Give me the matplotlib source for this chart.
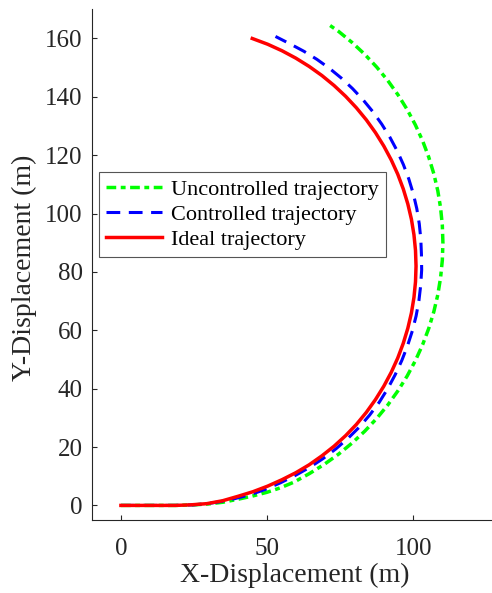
import matplotlib
matplotlib.use("Agg")
import matplotlib.pyplot as plt

plt.rcParams['font.family'] = ['Liberation Serif', 'DejaVu Serif']

# Trajectory samples (x, y) in metres
ideal_x = [0, 10, 18.7, 24.0, 29.4, 34.8, 40.0, 45.2, 50.2, 55.1, 59.85, 64.4, 68.8,
           72.96, 76.9, 80.58, 84.0, 87.13, 89.97, 92.51, 94.74, 96.63, 98.19, 99.42,
           100.29, 100.82, 101.0, 100.82, 100.29, 99.42, 98.19, 96.63, 94.74, 92.51,
           89.97, 87.13, 84.0, 80.58, 76.9, 72.96, 68.8, 64.42, 59.85, 55.10, 50.2,
           44.95]
ideal_y = [0, 0, 0, 0.2, 0.6, 1.6, 3.1, 4.7, 6.6, 8.8, 11.2, 13.9, 17.0,
           20.3, 23.9, 27.74, 31.9, 36.28, 40.85, 45.60, 50.5, 55.55, 60.7, 65.94,
           71.26, 76.62, 82.0, 87.38, 92.74, 98.06, 103.3, 108.45, 113.5, 118.40,
           123.15, 127.72, 132.1, 136.26, 140.19, 143.88, 147.3, 150.43, 153.27,
           155.81, 158.04, 160.0]

ctrl_x = [0, 10, 18.7, 25.0, 29.4, 33.5, 38.9, 44.3, 49.5, 54.7, 59.73, 64.55, 69.15,
          73.54, 77.69, 81.58, 85.14, 88.41, 91.29, 93.85, 96.12, 98.07, 99.72, 101.03,
          101.99, 102.6, 102.93, 102.85, 102.63, 102.11, 101.26, 100.06, 98.53, 96.68,
          94.51, 92.03, 89.25, 86.19, 82.85, 79.25, 75.41, 71.35, 67.07, 62.6, 57.96,
          52.9]
ctrl_y = [0, 0, 0, 0.2, 0.6, 1.2, 2.3, 3.7, 5.5, 7.8, 10.3, 13.0, 16.03,
          19.35, 22.96, 26.82, 30.98, 35.35, 39.97, 44.75, 49.64, 54.66, 59.75, 64.93,
          70.17, 75.44, 80.72, 86.0, 91.26, 96.49, 101.69, 106.81, 111.84, 116.77,
          121.56, 126.2, 130.67, 134.95, 139.01, 142.85, 146.45, 149.79, 152.85,
          155.63, 158.11, 160.7]

unctrl_x = [0, 10, 18.7, 25.0, 30.0, 35.0, 40.0, 45.0, 50.0, 54.5, 59.28, 64.55,
            69.62, 74.48, 79.10, 83.46, 87.54, 91.34, 94.81, 97.97, 100.78, 103.25,
            105.35, 107.09, 108.45, 109.41, 110.0, 110.2, 110.0, 109.41, 108.45,
            107.09, 105.35, 103.25, 100.78, 97.97, 94.81, 91.34, 87.54, 83.46, 79.10,
            74.48, 71.5]
unctrl_y = [0, 0, 0, 0.2, 0.5, 1.1, 2.1, 3.2, 4.5, 6.0, 8.0, 10.93,
            14.09, 17.56, 21.36, 25.44, 29.80, 34.42, 39.28, 44.35, 49.62, 55.06,
            60.65, 66.37, 72.19, 78.09, 84.03, 90.0, 95.97, 101.91, 107.81,
            113.63, 119.35, 124.94, 130.38, 135.65, 140.72, 145.58, 150.20, 154.56,
            158.64, 162.44, 164.5]

x_ticks = [0, 50, 100]
y_ticks = [0, 20, 40, 60, 80, 100, 120, 140, 160]

fig = plt.figure(figsize=(4.92, 5.93), dpi=100)
ax = fig.add_axes([0.1864, 0.1231, 0.8136, 0.8612])

ax.plot(unctrl_x, unctrl_y, color='#00ff00', lw=2.5, dashes=(2.8, 1.3, 1.4, 1.3),
        label='Uncontrolled trajectory')
ax.plot(ctrl_x, ctrl_y, color='#0000ff', lw=2.2, dashes=(4.5, 2.8),
        label='Controlled trajectory')
ax.plot(ideal_x, ideal_y, color='#ff0000', lw=2.5, label='Ideal trajectory')

ax.set_xlim(-10, 127)
ax.set_ylim(-5, 170)
ax.set_xticks(x_ticks)
ax.set_yticks(y_ticks)

axis_color = '#262626'
for side in ('top', 'right'):
    ax.spines[side].set_visible(False)
for side in ('left', 'bottom'):
    ax.spines[side].set_color(axis_color)
    ax.spines[side].set_linewidth(0.8)
ax.tick_params(axis='both', direction='in', length=3.6, width=0.8, colors=axis_color,
               labelsize=18)
ax.tick_params(axis='x', pad=13)
ax.tick_params(axis='y', pad=6.5)

ax.set_xlabel('X-Displacement (m)', fontsize=20, color=axis_color)
ax.set_ylabel('Y-Displacement (m)', fontsize=20, color=axis_color)
ax.xaxis.set_label_coords(0.508, -0.083)
ax.yaxis.set_label_coords(-0.1367, 0.494)

leg = ax.legend(loc='upper left', bbox_to_anchor=(0.0182, 0.682), fontsize=16,
                frameon=True, fancybox=False, edgecolor='#555555', framealpha=1,
                handlelength=2.5, handletextpad=0.4, borderpad=0.33, labelspacing=0.2,
                borderaxespad=0)
leg.get_frame().set_linewidth(0.8)

fig.savefig('out.png', dpi=100)
